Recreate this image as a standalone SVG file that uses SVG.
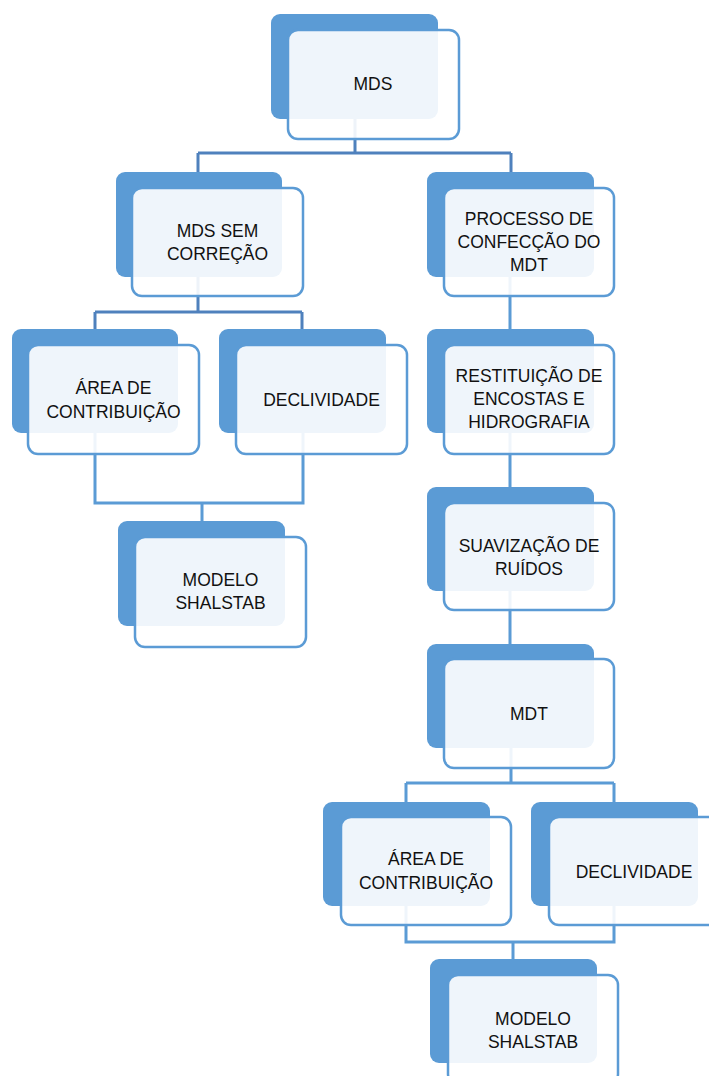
<svg xmlns="http://www.w3.org/2000/svg" width="709" height="1076" viewBox="0 0 709 1076">
<style>
.back{fill:#5B9BD5;}
.front{fill:#FFFFFF;fill-opacity:0.9;stroke:#5B9BD5;stroke-width:2.5;}
.t{font-family:"Liberation Sans",Arial,sans-serif;font-size:17.5px;fill:#111111;text-anchor:middle;}
.c1{fill:none;stroke:#4F81BD;stroke-width:3;}
.c2{fill:none;stroke:#5B9BD5;stroke-width:3;}
</style>
<rect width="709" height="1076" fill="#FFFFFF"/>
<g id="connectors">
<path class="c1" d="M355 100 V153 M198 153 H511 M198 153 V190 M511 153 V190"/>
<path class="c1" d="M198 260 V312 M95 312 H302 M95 312 V350 M302 312 V350"/>
<path class="c2" d="M95 420 V503 H303 V420 M202 503 V540"/>
<path class="c2" d="M510 270 V350 M510 420 V510 M510 580 V665"/>
<path class="c2" d="M511 730 V783 M406 783 H614 M406 783 V820 M614 783 V820"/>
<path class="c2" d="M406 890 V942 H614 V890 M513 942 V980"/>
</g>
<g id="n-mds">
<rect class="back" x="271" y="14" width="167" height="105" rx="9"/>
<rect class="front" x="288" y="30" width="171" height="109" rx="10"/>
<text class="t" x="373" y="90">MDS</text>
</g>
<g id="n-mds-sem">
<rect class="back" x="116" y="172" width="166" height="105" rx="9"/>
<rect class="front" x="132" y="188" width="171" height="108" rx="10"/>
<text class="t" x="217.5"><tspan x="217.5" y="237">MDS SEM</tspan><tspan x="217.5" y="260">CORREÇÃO</tspan></text>
</g>
<g id="n-processo">
<rect class="back" x="427" y="172" width="167" height="105" rx="9"/>
<rect class="front" x="444" y="188" width="170" height="108" rx="10"/>
<text class="t"><tspan x="529" y="225">PROCESSO DE</tspan><tspan x="529" y="248">CONFECÇÃO DO</tspan><tspan x="529" y="271">MDT</tspan></text>
</g>
<g id="n-area1">
<rect class="back" x="12" y="329" width="166" height="104" rx="9"/>
<rect class="front" x="28" y="345" width="171" height="109" rx="10"/>
<text class="t"><tspan x="113.5" y="394">ÁREA DE</tspan><tspan x="113.5" y="418">CONTRIBUIÇÃO</tspan></text>
</g>
<g id="n-decl1">
<rect class="back" x="219" y="329" width="167" height="104" rx="9"/>
<rect class="front" x="236" y="345" width="171" height="109" rx="10"/>
<text class="t" x="321.5" y="406">DECLIVIDADE</text>
</g>
<g id="n-restituicao">
<rect class="back" x="427" y="329" width="167" height="104" rx="9"/>
<rect class="front" x="444" y="345" width="170" height="109" rx="10"/>
<text class="t"><tspan x="529" y="382">RESTITUIÇÃO DE</tspan><tspan x="529" y="405">ENCOSTAS E</tspan><tspan x="529" y="428">HIDROGRAFIA</tspan></text>
</g>
<g id="n-shalstab1">
<rect class="back" x="118" y="521" width="167" height="105" rx="9"/>
<rect class="front" x="135" y="537" width="171" height="110" rx="10"/>
<text class="t"><tspan x="220.5" y="586">MODELO</tspan><tspan x="220.5" y="609">SHALSTAB</tspan></text>
</g>
<g id="n-suavizacao">
<rect class="back" x="427" y="487" width="167" height="104" rx="9"/>
<rect class="front" x="444" y="503" width="170" height="107" rx="10"/>
<text class="t"><tspan x="529" y="552">SUAVIZAÇÃO DE</tspan><tspan x="529" y="575">RUÍDOS</tspan></text>
</g>
<g id="n-mdt">
<rect class="back" x="427" y="644" width="167" height="104" rx="9"/>
<rect class="front" x="444" y="659" width="170" height="109" rx="10"/>
<text class="t" x="529" y="720">MDT</text>
</g>
<g id="n-area2">
<rect class="back" x="323" y="802" width="167" height="104" rx="9"/>
<rect class="front" x="341" y="817" width="170" height="108" rx="10"/>
<text class="t"><tspan x="426" y="865">ÁREA DE</tspan><tspan x="426" y="889">CONTRIBUIÇÃO</tspan></text>
</g>
<g id="n-decl2">
<rect class="back" x="531" y="802" width="167" height="104" rx="9"/>
<rect class="front" x="549" y="817" width="171" height="108" rx="10"/>
<text class="t" x="634" y="878">DECLIVIDADE</text>
</g>
<g id="n-shalstab2">
<rect class="back" x="430" y="959" width="167" height="104" rx="9"/>
<rect class="front" x="448" y="975" width="170" height="109" rx="10"/>
<text class="t"><tspan x="533" y="1025">MODELO</tspan><tspan x="533" y="1048">SHALSTAB</tspan></text>
</g>
</svg>
